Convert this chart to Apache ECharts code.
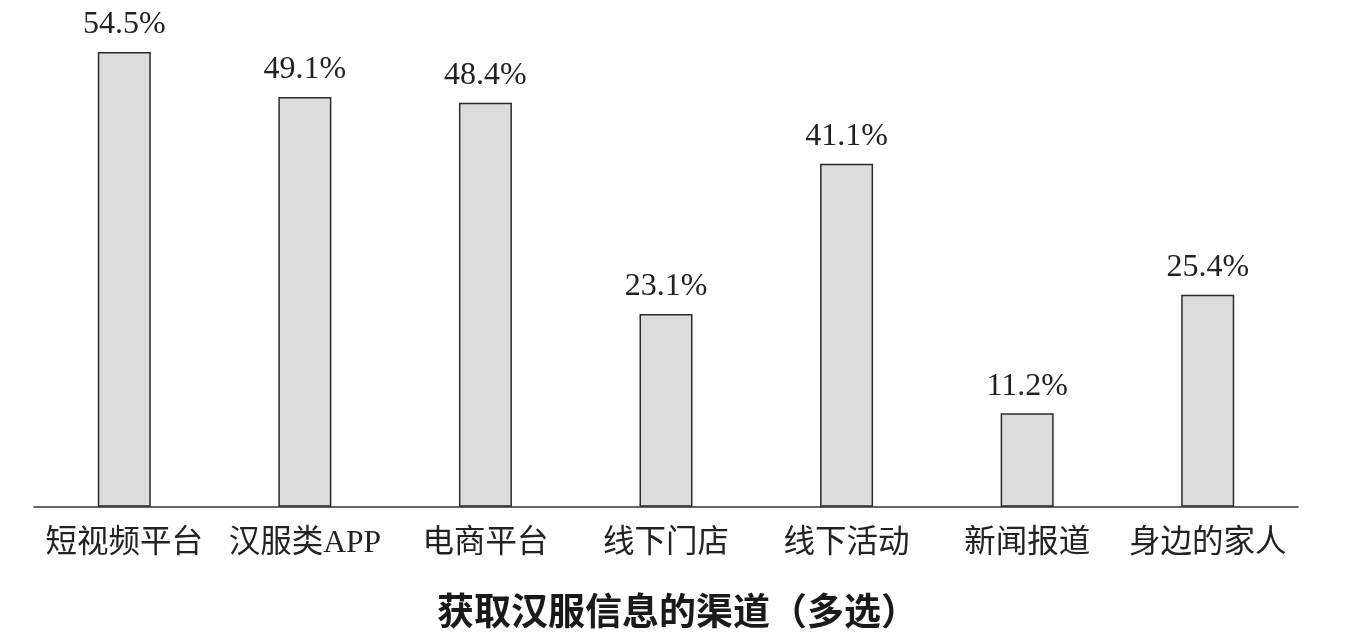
<!DOCTYPE html>
<html>
<head>
<meta charset="utf-8">
<script src="https://cdn.jsdelivr.net/npm/echarts@6/dist/echarts.min.js"></script>
<style>html,body{margin:0;padding:0;background:#fff;}#c{width:1355px;height:633px;}</style>
</head>
<body>
<div id="c"></div>
<script>
const categories = ['短视频平台', '汉服类APP', '电商平台', '线下门店', '线下活动', '新闻报道', '身边的家人'];
const values = [54.5, 49.1, 48.4, 23.1, 41.1, 11.2, 25.4];
const titleText = '获取汉服信息的渠道（多选）';

const chart = echarts.init(document.getElementById('c'));
const serif = '"Liberation Serif", "Noto Sans CJK SC", serif';
chart.setOption({
  animation: false,
  backgroundColor: '#ffffff',
  title: {
    text: titleText,
    left: 'center',
    top: 587,
    textStyle: { fontFamily: '"Noto Sans CJK SC", sans-serif', fontWeight: 'bold', fontSize: 37, color: '#1a1a1a' }
  },
  grid: { left: 34, right: 57, top: 6, bottom: 126.3, containLabel: false },
  xAxis: {
    type: 'category',
    data: categories,
    axisLine: { show: true, lineStyle: { color: '#333', width: 1.5 } },
    axisTick: { show: false },
    axisLabel: { interval: 0, margin: 21, fontFamily: serif, fontSize: 31.5, color: '#222' }
  },
  yAxis: {
    type: 'value',
    min: 0,
    max: 60,
    show: false,
    splitLine: { show: false }
  },
  series: [{
    type: 'bar',
    data: values,
    barWidth: 53,
    itemStyle: { color: '#dcdcdc', borderColor: '#2a2a2a', borderWidth: 1.5 },
    label: {
      show: true,
      position: 'top',
      distance: 11,
      formatter: p => p.value.toFixed(1) + '%',
      fontFamily: serif,
      fontSize: 32,
      color: '#222'
    }
  }]
});
</script>
</body>
</html>
